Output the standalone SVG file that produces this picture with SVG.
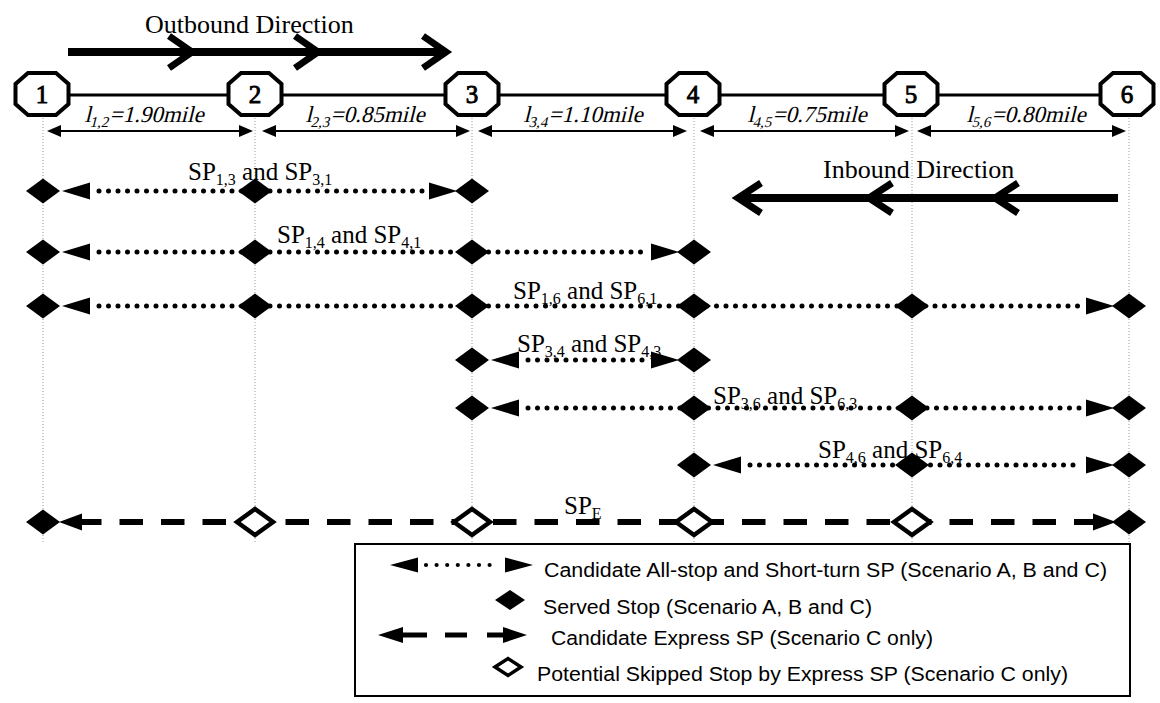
<svg xmlns="http://www.w3.org/2000/svg" width="1160" height="703" viewBox="0 0 1160 703">
<style>
.guide{stroke:#9a9a9a;stroke-width:1;stroke-dasharray:1 2;fill:none}
.dot{stroke:#000;stroke-width:5;stroke-linecap:round;stroke-dasharray:0 9.5;fill:none}
.dash{stroke:#000;stroke-width:6;stroke-dasharray:23.5 18;fill:none}
.dim{stroke:#000;stroke-width:2;fill:none}
.dir{stroke:#000;stroke-width:8;fill:none}
.chev{stroke:#000;stroke-width:7;fill:none;stroke-linejoin:miter;stroke-linecap:butt}
.track{stroke:#000;stroke-width:3}
.serif{font-family:"Liberation Serif","Times New Roman",serif;fill:#000;font-style:normal;font-weight:normal}
.sp{font-size:25px}
.sub{font-size:16px}
.num{font-size:25px;text-anchor:middle;stroke:#000;stroke-width:0.9}
.len{font-size:23px;text-anchor:middle}
.lsub{font-size:15px}
.dirt{font-size:26px}
.leg{font-family:"Liberation Sans",Arial,sans-serif;font-size:20px;fill:#000}
</style>
<defs>
<path id="oct" d="M-14,-21 L14,-21 L26.5,-10 L26.5,10 L14,21 L-14,21 L-26.5,10 L-26.5,-10 Z" fill="#fff" stroke="#000" stroke-width="4"/>
<path id="dF" d="M-17,0 L0,-12.5 L17,0 L0,12.5 Z" fill="#000"/>
<path id="dH" d="M-18,0 L0,-13 L18,0 L0,13 Z" fill="#fff" stroke="#000" stroke-width="4.5"/>
<path id="aL" d="M0,0 L28,-8.5 L28,8.5 Z" fill="#000"/>
<path id="aR" d="M0,0 L-28,-8.5 L-28,8.5 Z" fill="#000"/>
<path id="aL2" d="M0,0 L23,-8.5 L23,8.5 Z" fill="#000"/>
<path id="aR2" d="M0,0 L-23,-8.5 L-23,8.5 Z" fill="#000"/>
<path id="sL" d="M0,0 L14,-6 L14,6 Z" fill="#000"/>
<path id="sR" d="M0,0 L-14,-6 L-14,6 Z" fill="#000"/>
</defs>
<rect width="1160" height="703" fill="#fff"/>

<g id="guides">
<line class="guide" x1="43" y1="118" x2="43" y2="542"/>
<line class="guide" x1="255" y1="118" x2="255" y2="542"/>
<line class="guide" x1="472" y1="118" x2="472" y2="544"/>
<line class="guide" x1="694" y1="118" x2="694" y2="544"/>
<line class="guide" x1="912" y1="118" x2="912" y2="544"/>
<line class="guide" x1="1129" y1="118" x2="1129" y2="542"/>
</g>

<g id="directions">
<text class="serif dirt" x="145" y="33">Outbound Direction</text>
<path class="dir" d="M68,52 H444"/>
<path class="chev" d="M169,36 L192,52 L169,68"/>
<path class="chev" d="M295,36 L318,52 L295,68"/>
<path class="chev" d="M423,36 L446,52 L423,68"/>
<text class="serif dirt" x="823" y="178">Inbound Direction</text>
<path class="dir" d="M1118,198 H741"/>
<path class="chev" d="M761,183 L738,198 L761,213"/>
<path class="chev" d="M892,183 L869,198 L892,213"/>
<path class="chev" d="M1018,183 L995,198 L1018,213"/>
</g>

<g id="connectors">
<line class="track" x1="70" y1="95" x2="1100" y2="95"/>
<g id="dimensions">
<line class="dim" x1="55" y1="131" x2="245" y2="131"/><use href="#sL" x="47" y="131"/><use href="#sR" x="253" y="131"/>
<line class="dim" x1="270" y1="131" x2="462" y2="131"/><use href="#sL" x="262" y="131"/><use href="#sR" x="470" y="131"/>
<line class="dim" x1="486" y1="131" x2="679" y2="131"/><use href="#sL" x="478" y="131"/><use href="#sR" x="687" y="131"/>
<line class="dim" x1="708" y1="131" x2="901" y2="131"/><use href="#sL" x="700" y="131"/><use href="#sR" x="909" y="131"/>
<line class="dim" x1="925" y1="131" x2="1118" y2="131"/><use href="#sL" x="917" y="131"/><use href="#sR" x="1126" y="131"/>
<text class="serif len" transform="translate(144,122) skewX(-14)">l<tspan class="lsub" dy="5">1,2</tspan><tspan dy="-5">=1.90mile</tspan></text>
<text class="serif len" transform="translate(365,122) skewX(-14)">l<tspan class="lsub" dy="5">2,3</tspan><tspan dy="-5">=0.85mile</tspan></text>
<text class="serif len" transform="translate(583,122) skewX(-14)">l<tspan class="lsub" dy="5">3,4</tspan><tspan dy="-5">=1.10mile</tspan></text>
<text class="serif len" transform="translate(807,122) skewX(-14)">l<tspan class="lsub" dy="5">4,5</tspan><tspan dy="-5">=0.75mile</tspan></text>
<text class="serif len" transform="translate(1026,122) skewX(-14)">l<tspan class="lsub" dy="5">5,6</tspan><tspan dy="-5">=0.80mile</tspan></text>
</g>

<g id="sp13">
<line class="dot" x1="99" y1="191" x2="424" y2="191"/>
<use href="#aL" x="62" y="191"/><use href="#aR" x="457" y="191"/>
<use href="#dF" x="43" y="191"/><use href="#dF" x="255" y="191"/><use href="#dF" x="472" y="191"/>
<text class="serif sp" x="188" y="180">SP<tspan class="sub" dy="5">1,3</tspan><tspan dy="-5"> and SP</tspan><tspan class="sub" dy="5">3,1</tspan></text>
</g>
<g id="sp14">
<line class="dot" x1="99" y1="252" x2="646" y2="252"/>
<use href="#aL" x="62" y="252"/><use href="#aR" x="679" y="252"/>
<use href="#dF" x="43" y="252"/><use href="#dF" x="255" y="252"/><use href="#dF" x="472" y="252"/><use href="#dF" x="694" y="252"/>
<text class="serif sp" x="277" y="243">SP<tspan class="sub" dy="5">1,4</tspan><tspan dy="-5"> and SP</tspan><tspan class="sub" dy="5">4,1</tspan></text>
</g>
<g id="sp16">
<line class="dot" x1="99" y1="306" x2="1082" y2="306"/>
<use href="#aL" x="62" y="306"/><use href="#aR" x="1114" y="306"/>
<use href="#dF" x="43" y="306"/><use href="#dF" x="255" y="306"/><use href="#dF" x="472" y="306"/><use href="#dF" x="694" y="306"/><use href="#dF" x="912" y="306"/><use href="#dF" x="1129" y="306"/>
<text class="serif sp" x="513" y="299">SP<tspan class="sub" dy="5">1,6</tspan><tspan dy="-5"> and SP</tspan><tspan class="sub" dy="5">6,1</tspan></text>
</g>
<g id="sp34">
<line class="dot" x1="528" y1="360" x2="646" y2="360"/>
<use href="#aL" x="491" y="360"/><use href="#aR" x="679" y="360"/>
<use href="#dF" x="472" y="360"/><use href="#dF" x="694" y="360"/>
<text class="serif sp" x="517" y="352">SP<tspan class="sub" dy="5">3,4</tspan><tspan dy="-5"> and SP</tspan><tspan class="sub" dy="5">4,3</tspan></text>
</g>
<g id="sp36">
<line class="dot" x1="528" y1="408" x2="1082" y2="408"/>
<use href="#aL" x="491" y="408"/><use href="#aR" x="1114" y="408"/>
<use href="#dF" x="472" y="408"/><use href="#dF" x="694" y="408"/><use href="#dF" x="912" y="408"/><use href="#dF" x="1129" y="408"/>
<text class="serif sp" x="713" y="404">SP<tspan class="sub" dy="5">3,6</tspan><tspan dy="-5"> and SP</tspan><tspan class="sub" dy="5">6,3</tspan></text>
</g>
<g id="sp46">
<line class="dot" x1="750" y1="465" x2="1082" y2="465"/>
<use href="#aL" x="713" y="465"/><use href="#aR" x="1114" y="465"/>
<use href="#dF" x="694" y="465"/><use href="#dF" x="912" y="465"/><use href="#dF" x="1129" y="465"/>
<text class="serif sp" x="818" y="458">SP<tspan class="sub" dy="5">4,6</tspan><tspan dy="-5"> and SP</tspan><tspan class="sub" dy="5">6,4</tspan></text>
</g>
<g id="spE">
<line class="dash" x1="78" y1="522" x2="1097.5" y2="522"/>
<use href="#aL2" x="59" y="522"/><use href="#aR2" x="1116" y="522"/>
<use href="#dF" x="43" y="522"/><use href="#dH" x="255" y="522"/><use href="#dH" x="472" y="522"/><use href="#dH" x="694" y="522"/><use href="#dH" x="912" y="522"/><use href="#dF" x="1129" y="522"/>
<text class="serif sp" x="564" y="514">SP<tspan class="sub" dy="5">E</tspan></text>
</g>
</g>

<g id="stop1"><use href="#oct" x="42" y="94"/><text class="serif num" x="42" y="103">1</text></g>
<g id="stop2"><use href="#oct" x="255" y="94"/><text class="serif num" x="255" y="103">2</text></g>
<g id="stop3"><use href="#oct" x="472" y="94"/><text class="serif num" x="472" y="103">3</text></g>
<g id="stop4"><use href="#oct" x="693" y="94"/><text class="serif num" x="693" y="103">4</text></g>
<g id="stop5"><use href="#oct" x="911" y="94"/><text class="serif num" x="911" y="103">5</text></g>
<g id="stop6"><use href="#oct" x="1127" y="94"/><text class="serif num" x="1127" y="103">6</text></g>

<g id="legend">
<rect x="355" y="544" width="775" height="152" fill="#fff" stroke="#000" stroke-width="2"/>
<line class="dot" x1="426" y1="565" x2="500" y2="565" style="stroke-width:4.2;stroke-dasharray:0 10.6"/>
<path d="M390,565 L418,557.5 L418,572.5 Z" fill="#000"/>
<path d="M533,565 L505,557.5 L505,572.5 Z" fill="#000"/>
<text class="leg" x="544" y="577" textLength="563" lengthAdjust="spacingAndGlyphs">Candidate All-stop and Short-turn SP (Scenario A, B and C)</text>
<path d="M495,600 L510,590 L525,600 L510,610 Z" fill="#000"/>
<text class="leg" x="543" y="614" textLength="329" lengthAdjust="spacingAndGlyphs">Served Stop (Scenario A, B and C)</text>
<path d="M378,635 L403,627 L403,643 Z" fill="#000"/>
<line x1="402" y1="635" x2="427" y2="635" stroke="#000" stroke-width="5"/>
<line x1="445" y1="635" x2="467" y2="635" stroke="#000" stroke-width="5"/>
<line x1="487" y1="635" x2="504" y2="635" stroke="#000" stroke-width="5"/>
<path d="M527,635 L503,627 L503,643 Z" fill="#000"/>
<text class="leg" x="551" y="645" textLength="382" lengthAdjust="spacingAndGlyphs">Candidate Express SP (Scenario C only)</text>
<path d="M495,667 L508,658.5 L521,667 L508,675.5 Z" fill="#fff" stroke="#000" stroke-width="3.5"/>
<text class="leg" x="537" y="681" textLength="531" lengthAdjust="spacingAndGlyphs">Potential Skipped Stop by Express SP (Scenario C only)</text>
</g>
</svg>
